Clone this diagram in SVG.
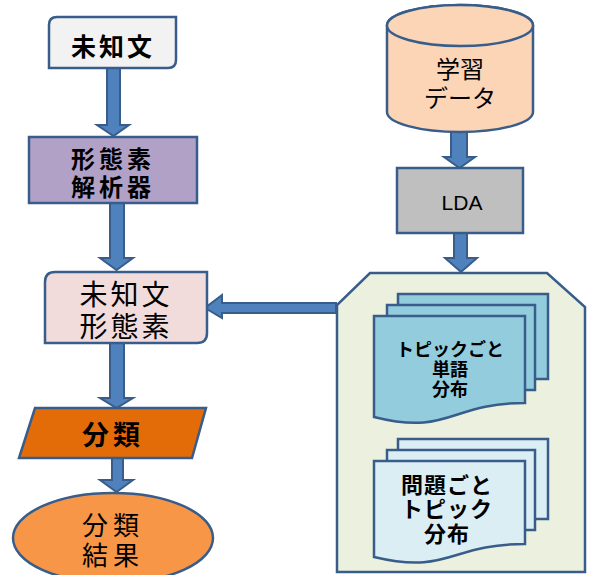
<svg xmlns="http://www.w3.org/2000/svg" width="589" height="575" viewBox="0 0 589 575">
<defs>
<style>
.nd{stroke:#385d8a;stroke-width:2.5}
.ar{fill:#4f81bd;stroke:#385d8a;stroke-width:2;stroke-linejoin:miter}
text{font-family:"Noto Sans CJK JP","Noto Sans CJK SC",sans-serif;text-anchor:middle;dominant-baseline:central;fill:#000}
.b{font-weight:bold}
.lat{font-family:"Liberation Sans",Arial,sans-serif}
</style>
</defs>
<rect width="589" height="575" fill="#fff"/>
<g id="connectors">
<path class="ar" d="M107,68 H120 V125 H129 L113.5,136 L97,125 H107 Z"/>
<path class="ar" d="M110,203 H124 V258 H133 L116.5,270 L100,258 H110 Z"/>
<path class="ar" d="M110,343 H124 V398 H133 L116.5,408 L100,398 H110 Z"/>
<path class="ar" d="M112,458 H123 V480 H133 L116.5,492 L100,480 H112 Z"/>
<path class="ar" d="M451,132 H467 V157 H475 L459.5,168 L444,157 H451 Z"/>
<path class="ar" d="M454,233 H467 V258 H477 L461,272 L445,258 H454 Z"/>
<path class="ar" d="M336,303 V313 H222 V318 L205,308 L222,295 V303 Z"/>
</g>
<g id="n-michibun">
<path class="nd" fill="#f2f2f2" d="M57,17 H176 V60 Q176,68 168,68 H49 V25 Q49,17 57,17 Z"/>
<text class="b" x="113" y="45" font-size="25" letter-spacing="3">未知文</text>
</g>
<g id="n-analyzer">
<rect class="nd" fill="#b2a1c7" x="29" y="137" width="168" height="66"/>
<text class="b" x="113" y="157" font-size="24" letter-spacing="4">形態素</text>
<text class="b" x="113" y="185" font-size="24" letter-spacing="4">解析器</text>
</g>
<g id="n-morph">
<path class="nd" fill="#f2dcdb" d="M55,272 H207 V333 Q207,343 197,343 H45 V282 Q45,272 55,272 Z"/>
<text x="126" y="293" font-size="28" letter-spacing="3">未知文</text>
<text x="126" y="325" font-size="28" letter-spacing="3">形態素</text>
</g>
<g id="n-classify">
<path class="nd" fill="#e36c09" d="M35,408 H206 L192,458 H19 Z"/>
<text class="b" x="113" y="433" font-size="27" letter-spacing="4">分類</text>
</g>
<g id="n-result">
<ellipse class="nd" fill="#f79646" cx="113" cy="538" rx="100" ry="45"/>
<text x="113" y="523" font-size="26" letter-spacing="5">分類</text>
<text x="113" y="553" font-size="26" letter-spacing="5">結果</text>
</g>
<g id="n-data">
<path class="nd" fill="#fbd5b5" d="M387,25.5 V112 A73,20 0 0 0 533,112 V25.5 A73,20.5 0 0 0 387,25.5 Z"/>
<ellipse class="nd" fill="#fbd5b5" cx="460" cy="25.5" rx="73" ry="20.5"/>
<text x="460" y="67" font-size="24">学習</text>
<text x="460" y="96" font-size="24">データ</text>
</g>
<g id="n-lda">
<rect class="nd" fill="#bfbfbf" x="397" y="168" width="126" height="65"/>
<text class="lat" x="462" y="202" font-size="21">LDA</text>
</g>
<g id="n-model">
<path class="nd" fill="#ebf1de" d="M370,273 H547 L585,307 V572 H337 V305 Z"/>
</g>
<g id="n-topicword">
<rect class="nd" fill="#93cddd" x="398" y="294" width="150" height="85"/>
<rect class="nd" fill="#93cddd" x="387" y="305" width="148" height="85"/>
<path class="nd" fill="#93cddd" d="M374,316 H525 V403 C449.5,403 449.5,436 374,417 Z"/>
<text class="b" x="450" y="348" font-size="18">トピックごと</text>
<text class="b" x="450" y="368" font-size="18">単語</text>
<text class="b" x="450" y="388" font-size="18">分布</text>
</g>
<g id="n-doctopic">
<rect class="nd" fill="#dbeef4" x="398" y="439" width="150" height="80"/>
<rect class="nd" fill="#dbeef4" x="387" y="450" width="148" height="80"/>
<path class="nd" fill="#dbeef4" d="M374,461 H525 V544 C449.5,544 449.5,575 374,557 Z"/>
<text class="b" x="447" y="483" font-size="22" letter-spacing="1">問題ごと</text>
<text class="b" x="447" y="507" font-size="22" letter-spacing="1">トピック</text>
<text class="b" x="447" y="532" font-size="22" letter-spacing="1">分布</text>
</g>
</svg>
